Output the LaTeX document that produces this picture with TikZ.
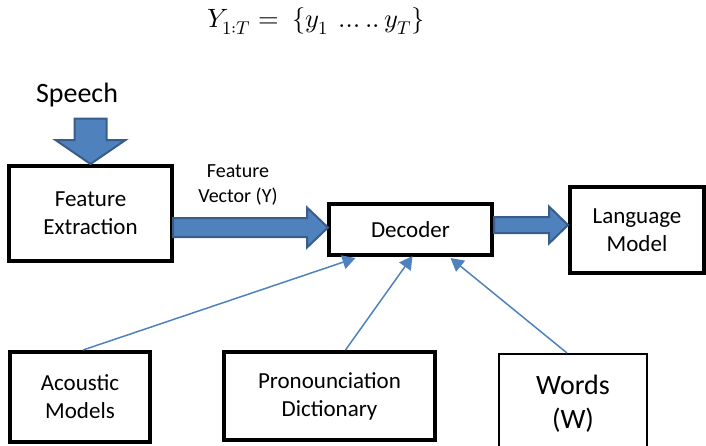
\documentclass[tikz,border=0pt]{standalone}
\usepackage{fontspec}
\usepackage{unicode-math}
\setmainfont{Carlito}
\setmathfont{Latin Modern Math}
\usepackage{xcolor}
\usepackage{tikz}
\usetikzlibrary{calc,arrows.meta}
\definecolor{arrowblue}{RGB}{79, 129, 189}
\definecolor{arrowedge}{RGB}{56, 93, 138}

\begin{document}
\begin{tikzpicture}[x=1pt, y=-1pt,
        box/.style = {draw=black, line width=4pt, outer sep=0pt, inner sep=0pt, align=center, font=\fontsize{23}{28}\selectfont},
        block/.style = {fill=arrowblue, draw=arrowedge, line width=2pt, line join=miter},
        thin/.style = {draw=arrowblue, line width=1.5pt, -{Triangle[length=13pt, width=14pt]}}]
        \clip (0,0) rectangle (706,445);
        % title formula
        \node (eq) at (316, 21) {\fontsize{26.5}{30}\selectfont $Y_{1:T} =\ \{y_1\ \ldots..\,y_T\}$};
        % boxes
        \node[box, minimum width=163, minimum height=95] (fe) at (90.5, 213.5) {Feature\\Extraction};
        \node[box, minimum width=163, minimum height=51] (dec) at (410.5, 229.5) {Decoder};
        \node[box, minimum width=134, minimum height=86] (lm) at (637, 230) {Language\\Model};
        \node[box, minimum width=140, minimum height=90] (ac) at (80, 397) {Acoustic\\Models};
        \node[box, minimum width=211, minimum height=88] (pd) at (329.5, 396) {Pronounciation\\Dictionary};
        \node[box, line width=1.5pt, minimum width=148, minimum height=100, font=\fontsize{28}{34}\selectfont] (wd) at (573, 404) {Words\\(W)};
        % labels
        \node[font=\fontsize{28}{34}\selectfont] (sp) at (77, 95) {Speech};
        \node[align=center, font=\fontsize{20}{25}\selectfont] (fv) at (238, 185) {Feature\\Vector (Y)};
        % speech arrow
        \coordinate (s0) at ($(sp.south -| fe.north)+(0,8)$);
        \coordinate (s1) at ($(fe.north)+(0,-2)$);
        \draw[block] ($(s0)+(-16,0)$) -- ($(s1)+(-16,-24)$) -- ($(s1)+(-35,-24)$) -- (s1)
                -- ($(s1)+(35,-24)$) -- ($(s1)+(16,-24)$) -- ($(s0)+(16,0)$) -- cycle;
        % feature vector arrow
        \coordinate (a1) at ($(fe.east |- dec.west)+(1,-2)$);
        \coordinate (a2) at ($(dec.west)+(-1,-2)$);
        \draw[block] ($(a1)+(0,-9.5)$) -- ($(a2)+(-21,-9.5)$) -- ($(a2)+(-21,-20)$) -- (a2)
                -- ($(a2)+(-21,20)$) -- ($(a2)+(-21,9.5)$) -- ($(a1)+(0,9.5)$) -- cycle;
        % decoder to language model
        \coordinate (b1) at ($(dec.east)+(2,-4.5)$);
        \coordinate (b2) at ($(lm.west |- b1)+(-2,0)$);
        \draw[block] ($(b1)+(0,-8)$) -- ($(b2)+(-19,-8)$) -- ($(b2)+(-19,-18.5)$) -- (b2)
                -- ($(b2)+(-19,18.5)$) -- ($(b2)+(-19,8)$) -- ($(b1)+(0,8)$) -- cycle;
        % thin arrows
        \draw[thin] ($(ac.north)+(3,-2)$) -- ($(dec.south)+(-55,3)$);
        \draw[thin] ($(pd.north)+(16,-2)$) -- ($(dec.south)+(2,1)$);
        \draw[thin] ($(wd.north)+(-6,-1)$) -- ($(dec.south)+(40,3)$);
    \end{tikzpicture}
\end{document}
